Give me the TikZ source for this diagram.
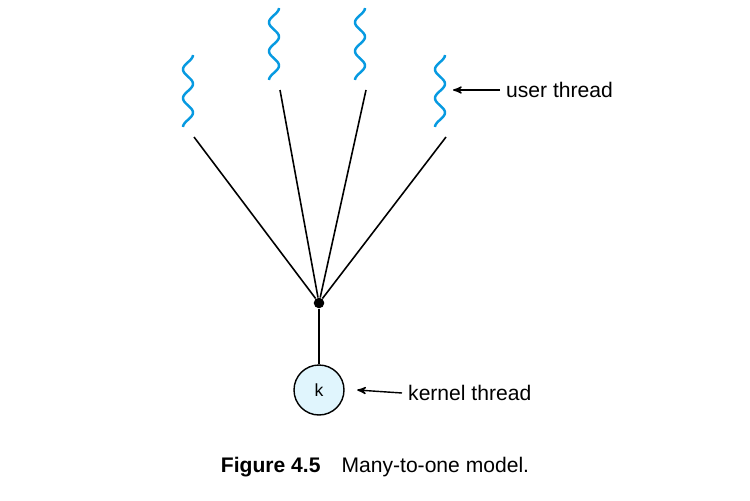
\documentclass[tikz,border=0pt]{standalone}
\usepackage{fontspec}
\setmainfont{Liberation Sans}
\usetikzlibrary{arrows}

\begin{document}
\begin{tikzpicture}[
	x = 0.02cm,
	y = -0.02cm,
	>=stealth',
	thread/.style = {
		draw = cyan!85!blue,
		line width = 1.4pt
	},
	link/.style = {
		line width = 0.9pt
	},
	dot/.style = {
		fill,
		circle,
		inner sep = 0pt,
		minimum size = 6pt
	}
	]
	\useasboundingbox (0,0) rectangle (750,500);
	% user threads
	\foreach \x/\y/\n in {188/55/a, 274/8/b, 360/8/c, 440/55/d} {
		\draw[thread] plot[smooth, domain=0:72, samples=73, variable=\t]
			({\x + 5*sin(\t*12.5+90)}, {\y + \t});
		\coordinate (\n) at (\x + 6, \y + 82);
	}
	\node[dot] (J) at (319,303) {};
	\node[draw, circle, fill = cyan!12, line width = 0.8pt, minimum size = 1cm] (k) at (319,390) {k};
	\foreach \n in {a,b,c,d}
		\draw[link] (\n) -- (J);
	\draw[link] (J) -- (k);
	% labels
	\node[right, font=\large] (ut) at (500,90) {user thread};
	\draw[->, thick] (ut.west) -- (453,90);
	\node[right, font=\large] (kt) at (402,393) {kernel thread};
	\draw[->, thick] (kt.west) -- ([xshift=0.25cm]k.east);
	\node[font=\large] (cap) at (375,467) {\textbf{Figure 4.5}\quad Many-to-one model.};
\end{tikzpicture}
\end{document}
